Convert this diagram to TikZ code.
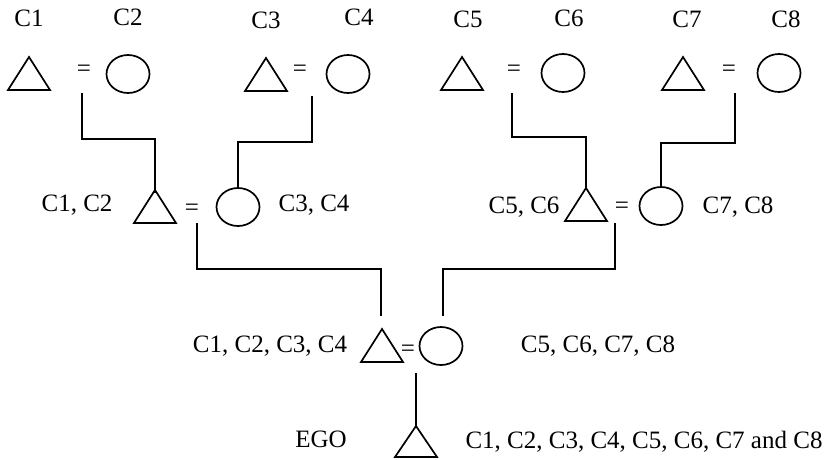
\documentclass[tikz,border=0pt]{standalone}
\usepackage{fontspec}
\setmainfont{Liberation Serif}
\usetikzlibrary{shapes.geometric}
\tikzset{
  lw/.style={line width=1.7pt},
  fem/.style={draw, lw, ellipse, minimum width=43pt, minimum height=38pt, inner sep=0pt},
  lab/.style={anchor=base, inner sep=0pt, font=\fontsize{25}{30}\selectfont},
  eqs/.style={anchor=base, inner sep=0pt, font=\fontsize{25}{30}\selectfont},
  conn/.style={lw},
}
% triangle: name, apex x, apex y, height
\newcommand{\maletri}[4]{%
  \coordinate (#1) at (#2,#3);
  \draw[lw, line join=miter] (#1) -- ++(21,#4) -- ++(-42,0) -- cycle;
}
\begin{document}
\begin{tikzpicture}[x=1pt,y=-1pt]
\useasboundingbox (0,0) rectangle (827,459);

% ---- Level 1 ----
\maletri{t1}{29}{57}{33}
\node[eqs] (e1) at (84,76) {=};
\node[fem] (o2) at (128,74) {};
\maletri{t3}{266}{58}{33}
\node[eqs] (e2) at (300,76) {=};
\node[fem] (o4) at (348,74) {};
\maletri{t5}{462}{57}{33}
\node[eqs] (e3) at (514,76) {=};
\node[fem] (o6) at (563,73) {};
\maletri{t7}{683}{57}{33}
\node[eqs] (e4) at (729,76) {=};
\node[fem] (o8) at (779,73) {};

\node[lab] (l1) at (29,26) {C1};
\node[lab] (l2) at (128,25) {C2};
\node[lab] (l3) at (266,28) {C3};
\node[lab] (l4) at (359,25) {C4};
\node[lab] (l5) at (468,27) {C5};
\node[lab] (l6) at (569,26) {C6};
\node[lab] (l7) at (687,27) {C7};
\node[lab] (l8) at (786,27) {C8};

% ---- Level 2 ----
\maletri{t12}{155}{190}{33}
\node[eqs] (e12) at (192,215) {=};
\node[fem] (o34) at (238,207) {};
\maletri{t56}{586}{188}{33}
\node[eqs] (e56) at (622,213) {=};
\node[fem] (o78) at (661,206) {};

\node[lab] (l12) at (77,211) {C1, C2};
\node[lab] (l34) at (314,211) {C3, C4};
\node[lab] (l56) at (524,213) {C5, C6};
\node[lab] (l78) at (738,213) {C7, C8};

% ---- Level 3 ----
\maletri{t14}{382}{329}{33}
\node[eqs] (e14) at (408,356) {=};
\node[fem] (o58) at (441,346) {};
\node[lab] (l14) at (270,352) {C1, C2, C3, C4};
\node[lab] (l58) at (598,352) {C5, C6, C7, C8};

% ---- EGO ----
\maletri{ego}{416}{426}{31}
\node[lab] (lego) at (321,447) {EGO};
\node[lab] (lall) at (644,448) {C1, C2, C3, C4, C5, C6, C7 and C8};

% ---- connectors ----
\coordinate (d1) at (82,93);
\coordinate (d2) at (312,96);
\coordinate (d3) at (512,93);
\coordinate (d4) at (735,93);
\draw[conn] (d1) -- (82,139) -| ([yshift=-3pt]t12);
\draw[conn] (d2) -- (312,142) -| (o34.north);
\draw[conn] (d3) -- (512,137) -| ([yshift=-2pt]t56);
\draw[conn] (d4) -- (735,143) -| (o78.north);

\coordinate (d12) at (197,223);
\coordinate (d56) at (615,223);
\coordinate (end14) at (381,316);
\coordinate (end58) at (443,316);
\draw[conn] (d12) -- (197,269) -| (end14);
\draw[conn] (d56) -- (615,269) -| (end58);

\coordinate (d58) at (416,373);
\draw[conn] (d58) -- (ego);
\end{tikzpicture}
\end{document}
